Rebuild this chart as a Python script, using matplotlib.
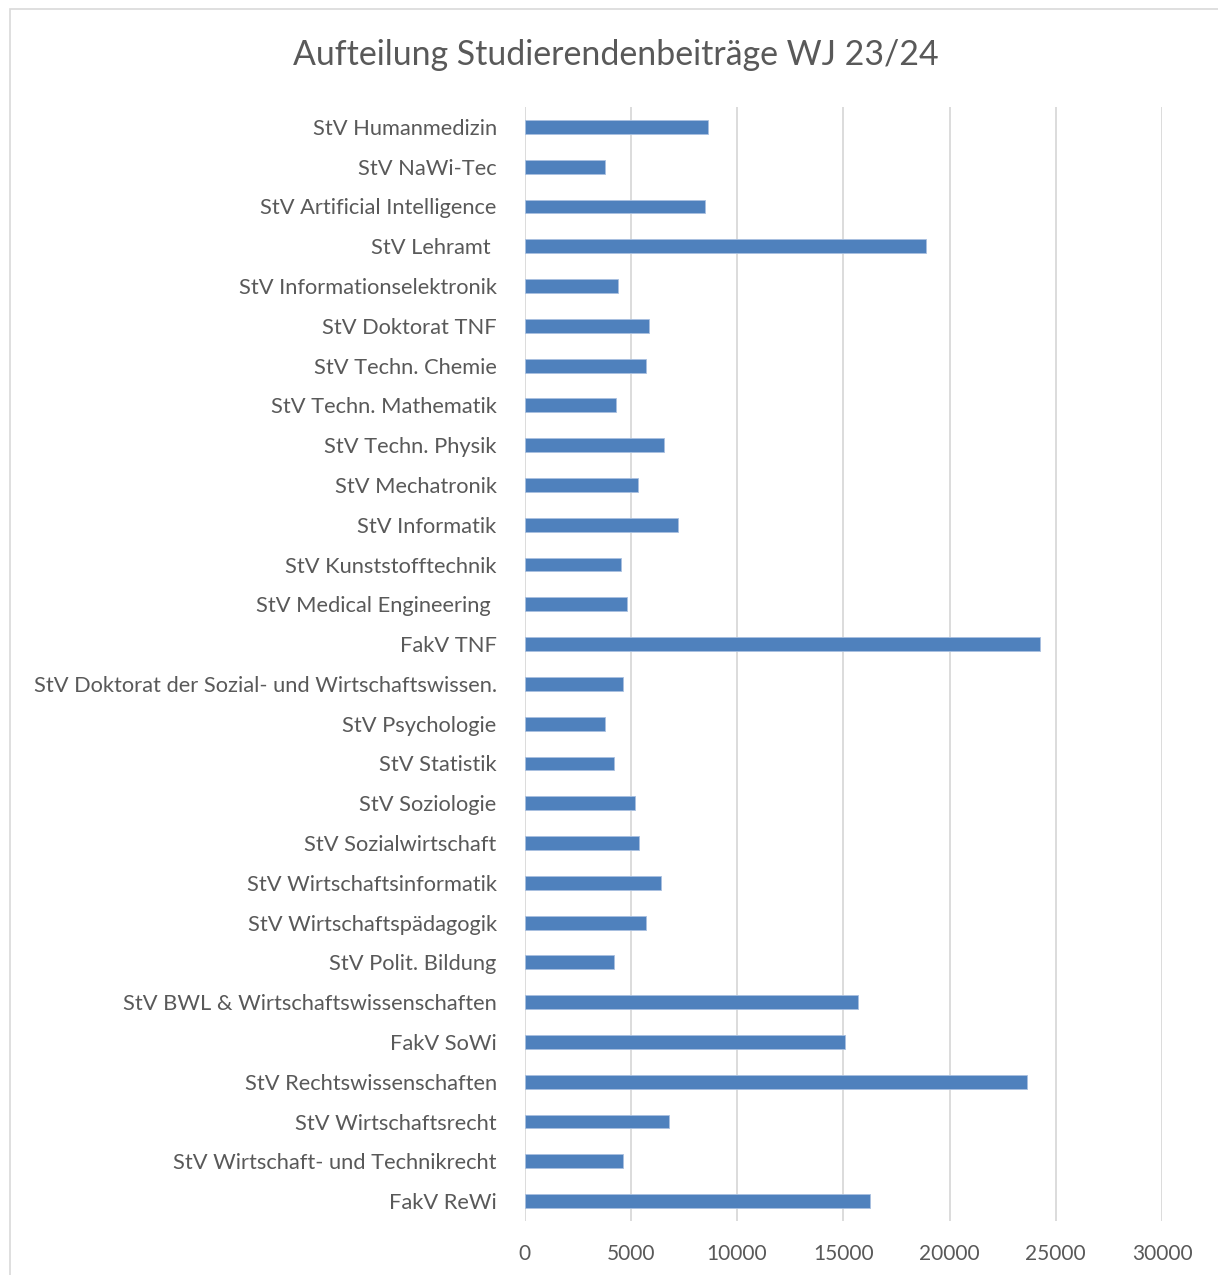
import matplotlib.pyplot as plt
import matplotlib.patches as mpatches

# categories, top to bottom as shown in the chart
labels = [
    "StV Humanmedizin",
    "StV NaWi-Tec",
    "StV Artificial Intelligence",
    "StV Lehramt ",
    "StV Informationselektronik",
    "StV Doktorat TNF",
    "StV Techn. Chemie",
    "StV Techn. Mathematik",
    "StV Techn. Physik",
    "StV Mechatronik",
    "StV Informatik",
    "StV Kunststofftechnik",
    "StV Medical Engineering ",
    "FakV TNF",
    "StV Doktorat der Sozial- und Wirtschaftswissen.",
    "StV Psychologie",
    "StV Statistik",
    "StV Soziologie",
    "StV Sozialwirtschaft",
    "StV Wirtschaftsinformatik",
    "StV Wirtschaftspädagogik",
    "StV Polit. Bildung",
    "StV BWL & Wirtschaftswissenschaften",
    "FakV SoWi",
    "StV Rechtswissenschaften",
    "StV Wirtschaftsrecht",
    "StV Wirtschaft- und Technikrecht",
    "FakV ReWi",
]

values = [
    8620, 3790, 8480, 18880, 4380, 5840, 5740, 4310, 6580, 5360,
    7220, 4530, 4830, 24280, 4650, 3780, 4200, 5200, 5400, 6440,
    5730, 4230, 15700, 15070, 23670, 6820, 4640, 16240,
]

x_ticks = [0, 5000, 10000, 15000, 20000, 25000, 30000]

TEXT = '#595959'
BAR = '#4F81BD'
GRID = '#D9D9D9'

plt.rcParams['font.family'] = ['Lato', 'DejaVu Sans']

fig = plt.figure(figsize=(12.18, 12.75), dpi=100, facecolor='white')
W, H = 1218, 1275

# plot area in pixels (left, top, right, bottom)
left, top, right, bottom = 524.5, 107, 1162, 1221
ax = fig.add_axes([left / W, 1 - bottom / H, (right - left) / W, (bottom - top) / H])

ypos = list(range(len(labels)))
ax.barh(ypos, values, height=0.35, color=BAR, edgecolor='#A9C0E0', linewidth=0.6, zorder=3)

ax.set_ylim(len(labels) - 0.5, -0.5)
ax.set_xlim(0, 30000)
ax.set_xticks(x_ticks)
ax.set_xticklabels([str(t) for t in x_ticks])
ax.set_yticks(ypos)
ax.set_yticklabels(labels)

ax.grid(axis='x', color=GRID, linewidth=1.3, zorder=0)
ax.set_axisbelow(True)
for spine in ax.spines.values():
    spine.set_visible(False)

ax.tick_params(axis='y', length=0, pad=20, labelsize=15.75, labelcolor=TEXT)
ax.tick_params(axis='x', length=0, pad=16.5, labelsize=15, labelcolor=TEXT)

fig.text(616 / W, 1 - 55 / H, "Aufteilung Studierendenbeiträge WJ 23/24",
         ha='center', va='center', fontsize=24.4, color=TEXT)

# light chart-area border (cropped at right and bottom)
border = mpatches.Rectangle((9.5 / W, -0.05), 1.2, 1 - 8.5 / H + 0.05,
                            transform=fig.transFigure, fill=False,
                            edgecolor=GRID, linewidth=1.2)
fig.patches.append(border)

fig.savefig('out.png', dpi=100, facecolor='white')
